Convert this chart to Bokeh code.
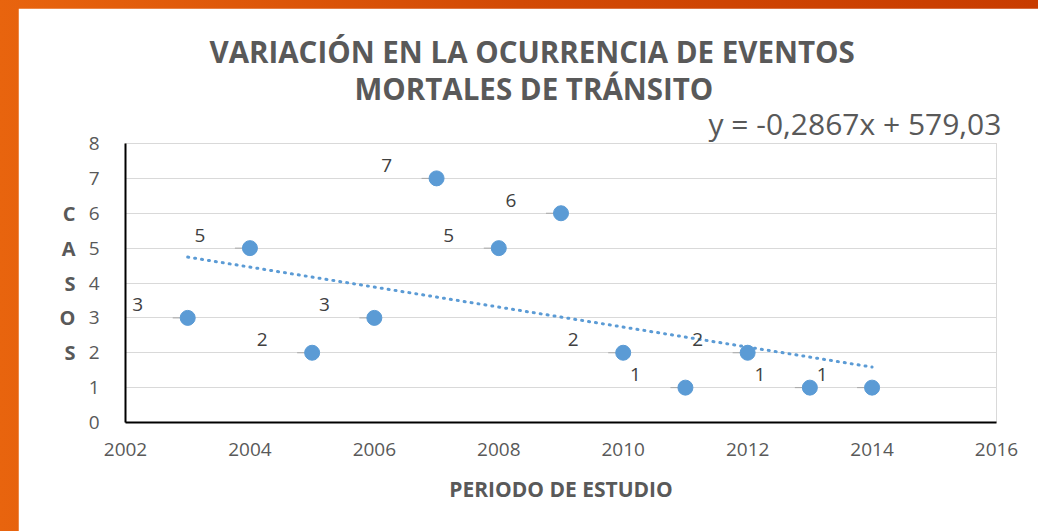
import numpy as np
from bokeh.plotting import figure
from bokeh.models import ColumnDataSource, Title, FixedTicker, Range1d, LinearAxis
from bokeh.core.properties import value
from bokeh.embed import file_html
from bokeh.resources import INLINE

years = [2003, 2004, 2005, 2006, 2007, 2008, 2009, 2010, 2011, 2012, 2013, 2014]
cases = [3, 5, 2, 3, 7, 5, 6, 2, 1, 2, 1, 1]
labels = [str(c) for c in cases]
x_ticks = [2002, 2004, 2006, 2008, 2010, 2012, 2014, 2016]
y_ticks = [0, 1, 2, 3, 4, 5, 6, 7, 8]
y_title_letters = ["C", "A", "S", "O", "S"]
y_title_at = [6, 5, 4, 3, 2]
title_lines = ["VARIACIÓN EN LA OCURRENCIA DE EVENTOS", "MORTALES DE TRÁNSITO"]
equation = "y = -0,2867x + 579,03"

FONT = "Open Sans"
GRAY = "#595959"
BLUE = "#5b9bd5"

p = figure(width=1020, height=523, output_backend="svg", toolbar_location=None,
           x_range=Range1d(2002, 2016), y_range=Range1d(0, 8),
           min_border_left=107, min_border_right=42, min_border_top=135, min_border_bottom=109)
p.margin = (8, 0, 0, 18)
p.background_fill_color = "white"
p.border_fill_color = "white"
p.outline_line_color = "#d9d9d9"
p.outline_line_width = 1

# equation (closest to plot), then title line 2, then title line 1
p.add_layout(Title(text=equation, align="left", offset=583, standoff=-1, text_font=FONT,
                   text_font_size="30px", text_font_style="normal", text_color=GRAY), "above")
p.add_layout(Title(text=title_lines[1], align="left", offset=229, standoff=-14, text_font=FONT,
                   text_font_size="29.5px", text_font_style="bold", text_color=GRAY), "above")
p.add_layout(Title(text=title_lines[0], align="left", offset=84, standoff=1, text_font=FONT,
                   text_font_size="29.5px", text_font_style="bold", text_color=GRAY), "above")

# axes
for ax in (p.xaxis[0], p.yaxis[0]):
    ax.axis_line_color = "black"
    ax.axis_line_width = 2
    ax.major_tick_line_color = None
    ax.minor_tick_line_color = None
    ax.major_label_text_font = FONT
    ax.major_label_text_font_size = "19px"
    ax.major_label_text_color = GRAY
p.xaxis.ticker = FixedTicker(ticks=x_ticks)
p.yaxis.ticker = FixedTicker(ticks=y_ticks)
p.xaxis.major_label_standoff = 14
p.yaxis.major_label_standoff = 20
p.xaxis.axis_label = "PERIODO DE ESTUDIO"
p.xaxis.axis_label_text_font = FONT
p.xaxis.axis_label_text_font_size = "21px"
p.xaxis.axis_label_text_font_style = "bold"
p.xaxis.axis_label_text_color = GRAY
p.xaxis.axis_label_standoff = 16

# stacked vertical axis title "C A S O S" as an extra label-only axis
letters_axis = LinearAxis(ticker=FixedTicker(ticks=y_title_at),
                          major_label_overrides={t: s for t, s in zip(y_title_at, y_title_letters)},
                          axis_line_color=None, major_tick_line_color=None, minor_tick_line_color=None,
                          major_label_text_font=FONT, major_label_text_font_size="20px",
                          major_label_text_font_style="bold", major_label_text_color=GRAY,
                          major_label_standoff=4, major_label_text_align="center")
p.add_layout(letters_axis, "left")

p.xgrid.grid_line_color = None
p.ygrid.grid_line_color = "#d9d9d9"
p.ygrid.grid_line_width = 1

src = ColumnDataSource(dict(x=years, y=cases, lab=labels))

# trendline from least squares fit
slope, intercept = np.polyfit(np.array(years, float), np.array(cases, float), 1)
tx = [years[0], years[-1]]
ty = [slope * v + intercept for v in tx]
p.line(tx, ty, line_color=BLUE, line_width=3, line_dash="1 6", line_cap="round")

# leader stubs
p.ray(x="x", y="y", source=src, length=15, length_units="screen", angle=np.pi,
      line_color="#a6a6a6", line_width=1)
p.scatter(x="x", y="y", source=src, size=15, fill_color=BLUE, line_color=BLUE)

p.text(x="x", y="y", text="lab", source=src, x_offset=-50, y_offset=-13,
       text_font=value(FONT), text_font_size="19px", text_color="#404040",
       text_align="center", text_baseline="middle")

html = file_html(p, INLINE)
html = html.replace("<head>", "<head><style>html,body{margin:0;padding:0;overflow:hidden;background:linear-gradient(to right,#e8640e,#d24a05 50%,#c83c00);}</style>", 1)
open("out.html", "w").write(html)
